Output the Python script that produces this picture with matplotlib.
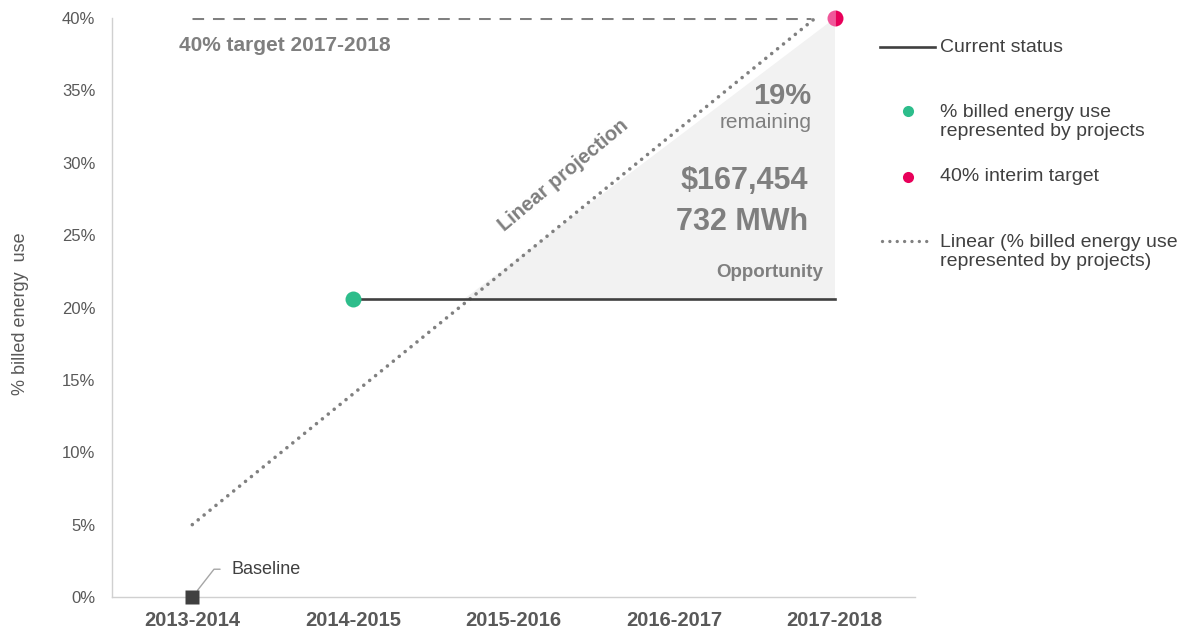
import numpy as np
import matplotlib.pyplot as plt
from matplotlib.lines import Line2D
from matplotlib.ticker import FuncFormatter

plt.rcParams['font.family'] = ['Liberation Sans', 'DejaVu Sans']

YEARS = ["2013-2014", "2014-2015", "2015-2016", "2016-2017", "2017-2018"]
BASELINE_X, BASELINE_Y = [0], [0.0]
PROJECT_X, PROJECT_Y = [1], [20.6]
STATUS_X, STATUS_Y = [1, 4], [20.6, 20.6]
TARGET_X, TARGET_Y = [4], [40.0]
TARGET_LINE_X, TARGET_LINE_Y = [0, 3.85], [40.0, 40.0]
LINEAR_X, LINEAR_Y = [0, 3.88], [5.0, 40.0]
OPP_X, OPP_Y = [1.69, 4, 4], [20.6, 20.6, 40.0]

GREY_TXT = "#595959"
GREY_BOLD = "#7f7f7f"
GREEN = "#2dbd8b"
PINK = "#e8005a"
PINK_LIGHT = "#f0579a"

fig = plt.figure(figsize=(11.85, 6.32), dpi=100)
ax = fig.add_axes([112 / 1185, 1 - 597 / 632, (915 - 112) / 1185, (597 - 18) / 632])

# opportunity triangle
ax.fill(OPP_X, OPP_Y, color="#f2f2f2", lw=0, zorder=1)

# target and projection lines
ax.plot(TARGET_LINE_X, TARGET_LINE_Y, color="#808080", lw=2.2,
        dashes=(3.8, 2.9), zorder=2)
ax.plot(LINEAR_X, LINEAR_Y, color="#808080", lw=2.6,
        linestyle=(0, (0.01, 2.1)), dash_capstyle="round", zorder=3)
ax.plot(STATUS_X, STATUS_Y, color="#404040", lw=1.9, zorder=4)

# points
ax.plot(PROJECT_X, PROJECT_Y, "o", color=GREEN, ms=11.5, mec="none", zorder=5)
ax.plot(TARGET_X, TARGET_Y, "o", ms=11.5, mec="none", fillstyle="left",
        markerfacecolor=PINK_LIGHT, markerfacecoloralt=PINK, zorder=5,
        clip_on=False)
ax.plot(BASELINE_X, BASELINE_Y, "s", color="#404040", ms=10, mec="none",
        zorder=5, clip_on=False)

ax.annotate("Baseline", xy=(0, 0), xytext=(28, 20), textcoords="offset points",
            ha="left", va="center", fontsize=13, color="#404040",
            arrowprops=dict(arrowstyle="-", color="#a6a6a6", lw=1,
                            connectionstyle="angle,angleA=0,angleB=52",
                            relpos=(0, 0.5), shrinkA=6, shrinkB=6))

# annotations
ax.text(-0.08, 38.13, "40% target 2017-2018", ha="left", va="center",
        fontsize=15, fontweight="bold", color=GREY_BOLD)
ax.text(1.945, 25.2, "Linear projection", ha="left", va="baseline",
        rotation=40, rotation_mode="anchor", fontsize=14.5,
        fontweight="bold", color=GREY_BOLD)
ax.text(3.857, 34.6, "19%", ha="right", va="center", fontsize=21,
        fontweight="bold", color=GREY_BOLD)
ax.text(3.857, 32.8, "remaining", ha="right", va="center", fontsize=15,
        color=GREY_BOLD)
ax.text(3.832, 28.74, "$167,454", ha="right", va="center", fontsize=22,
        fontweight="bold", color=GREY_BOLD)
ax.text(3.832, 25.9, "732 MWh", ha="right", va="center", fontsize=22,
        fontweight="bold", color=GREY_BOLD)
ax.text(3.925, 22.45, "Opportunity", ha="right", va="center", fontsize=13.5,
        fontweight="bold", color=GREY_BOLD)

# axes styling
ax.set_xlim(-0.5, 4.5)
ax.set_ylim(0, 40)
ax.set_xticks(range(len(YEARS)))
ax.set_xticklabels(YEARS, fontsize=14.5, fontweight="bold", color=GREY_TXT)
ax.set_yticks(np.arange(0, 41, 5))
ax.yaxis.set_major_formatter(FuncFormatter(lambda v, p: f"{v:.0f}%"))
ax.tick_params(axis="y", labelsize=12, labelcolor=GREY_TXT, length=0, pad=12)
ax.tick_params(axis="x", length=0, pad=10)
for s in ["top", "right"]:
    ax.spines[s].set_visible(False)
for s in ["left", "bottom"]:
    ax.spines[s].set_color("#d0d0d0")
    ax.spines[s].set_linewidth(1)
ax.set_ylabel("% billed energy  use", fontsize=13, color=GREY_TXT)
ax.yaxis.set_label_coords(-0.103, 0.49)

# legend drawn by hand to keep the spacing of the original
def fx(px):
    return px / 1185

def fy(py):
    return 1 - py / 632

fig.add_artist(Line2D([fx(880), fx(935)], [fy(47), fy(47)], color="#404040", lw=1.9))
fig.add_artist(Line2D([fx(908)], [fy(111)], marker="o", color=GREEN, ms=8, mec="none"))
fig.add_artist(Line2D([fx(908)], [fy(177)], marker="o", color=PINK, ms=8, mec="none"))
fig.add_artist(Line2D([fx(882), fx(933)], [fy(241), fy(241)], color="#808080", lw=2.4,
                      linestyle=(0, (0.01, 2.2)), dash_capstyle="round"))
leg_kw = dict(fontsize=14, color="#404040", ha="left", va="center", linespacing=1.15)
fig.text(fx(940), fy(47), "Current status", **leg_kw)
fig.text(fx(940), fy(122), "% billed energy use\nrepresented by projects", **leg_kw)
fig.text(fx(940), fy(177), "40% interim target", **leg_kw)
fig.text(fx(940), fy(252), "Linear (% billed energy use\nrepresented by projects)", **leg_kw)

fig.savefig("out.png", dpi=100)
